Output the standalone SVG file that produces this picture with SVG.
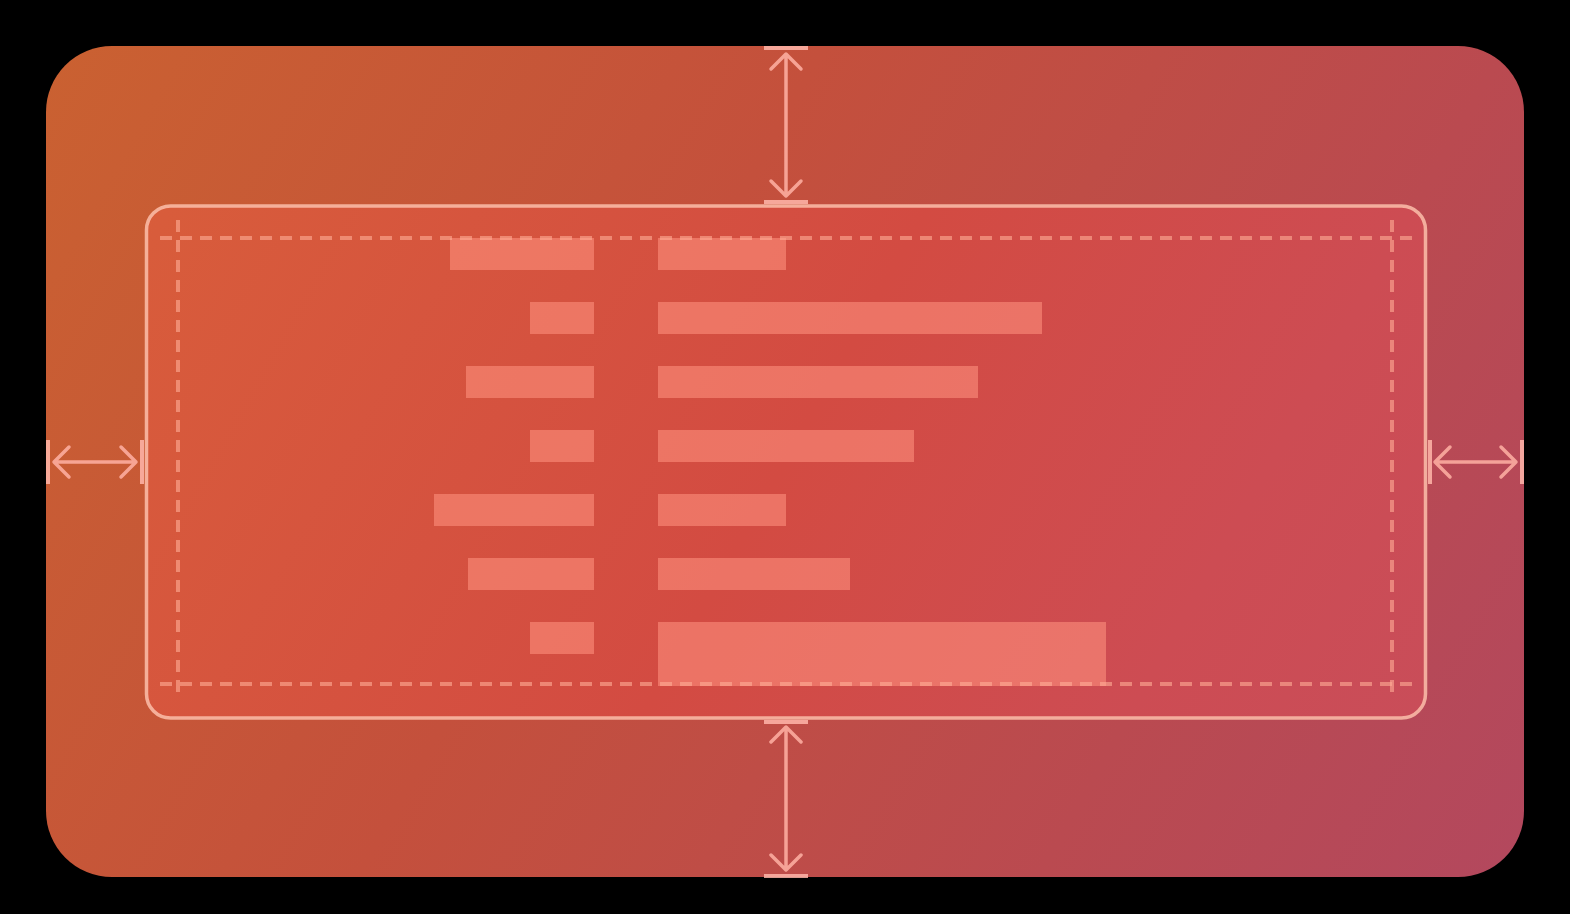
<svg xmlns="http://www.w3.org/2000/svg" width="1570" height="914" viewBox="0 0 1570 914">
  <defs>
    <linearGradient id="frameFill" gradientUnits="userSpaceOnUse" x1="46" y1="46" x2="1524" y2="877">
      <stop offset="0" stop-color="#ca6131"/>
      <stop offset="0.4" stop-color="#c4503c"/>
      <stop offset="0.75" stop-color="#ba4a50"/>
      <stop offset="1" stop-color="#b3485e"/>
    </linearGradient>
    <linearGradient id="panelFill" gradientUnits="userSpaceOnUse" x1="46" y1="46" x2="1524" y2="877">
      <stop offset="0" stop-color="#dc6436"/>
      <stop offset="0.11" stop-color="#d85c3b"/>
      <stop offset="0.5" stop-color="#d34b42"/>
      <stop offset="0.75" stop-color="#cd4c53"/>
      <stop offset="0.9" stop-color="#c94d59"/>
      <stop offset="1" stop-color="#c54c5e"/>
    </linearGradient>
    <style>
      .bar { fill: rgb(255,146,127); fill-opacity: 0.575; }
      .guide { fill: none; stroke: rgb(255,174,150); stroke-opacity: 0.6; stroke-width: 4; stroke-dasharray: 12 8; }
      .panel-edge { fill: url(#panelFill); stroke: rgb(252,190,170); stroke-opacity: 0.85; stroke-width: 3.5; }
      .arrow { fill: none; stroke: rgb(255,178,165); stroke-opacity: 0.85; stroke-width: 3.5; stroke-linecap: round; stroke-linejoin: round; }
      .cap { fill: rgb(255,182,170); fill-opacity: 0.85; }
    </style>
  </defs>

  <rect width="1570" height="914" fill="#000"/>

  <!-- outer frame -->
  <g id="frame">
    <rect x="46" y="46" width="1478" height="831" rx="66" ry="66" fill="url(#frameFill)"/>
  </g>

  <!-- content panel -->
  <g id="panel">
    <rect class="panel-edge" x="146.5" y="206" width="1279" height="512" rx="24" ry="24"/>
  </g>

  <!-- bars, left column right-aligned to 594, right column starting at 658 -->
  <g id="bars">
    <g id="row1"><rect class="bar" x="450" y="238" width="144" height="32"/><rect class="bar" x="658" y="238" width="128" height="32"/></g>
    <g id="row2"><rect class="bar" x="530" y="302" width="64" height="32"/><rect class="bar" x="658" y="302" width="384" height="32"/></g>
    <g id="row3"><rect class="bar" x="466" y="366" width="128" height="32"/><rect class="bar" x="658" y="366" width="320" height="32"/></g>
    <g id="row4"><rect class="bar" x="530" y="430" width="64" height="32"/><rect class="bar" x="658" y="430" width="256" height="32"/></g>
    <g id="row5"><rect class="bar" x="434" y="494" width="160" height="32"/><rect class="bar" x="658" y="494" width="128" height="32"/></g>
    <g id="row6"><rect class="bar" x="468" y="558" width="126" height="32"/><rect class="bar" x="658" y="558" width="192" height="32"/></g>
    <g id="row7"><rect class="bar" x="530" y="622" width="64" height="32"/><rect class="bar" x="658" y="622" width="448" height="64"/></g>
  </g>

  <!-- dashed safe-area guides -->
  <g id="guides">
    <line class="guide" x1="160" y1="238" x2="1412" y2="238"/>
    <line class="guide" x1="160" y1="684" x2="1412" y2="684"/>
    <line class="guide" x1="178" y1="220" x2="178" y2="692"/>
    <line class="guide" x1="1392" y1="220" x2="1392" y2="692"/>
  </g>

  <!-- margin dimension arrows -->
  <g id="connectors">
    <g id="margin-top">
      <rect class="cap" x="764" y="46" width="44" height="4"/>
      <rect class="cap" x="764" y="200" width="44" height="4"/>
      <path class="arrow" d="M786 54 V196 M771 69 L786 54 L801 69 M771 181 L786 196 L801 181"/>
    </g>
    <g id="margin-bottom">
      <rect class="cap" x="764" y="720" width="44" height="4"/>
      <rect class="cap" x="764" y="874" width="44" height="4"/>
      <path class="arrow" d="M786 727 V870 M771 742 L786 727 L801 742 M771 855 L786 870 L801 855"/>
    </g>
    <g id="margin-left">
      <rect class="cap" x="46" y="440" width="4" height="44"/>
      <rect class="cap" x="140" y="440" width="4" height="44"/>
      <path class="arrow" d="M54 462 H136 M69 447 L54 462 L69 477 M121 447 L136 462 L121 477"/>
    </g>
    <g id="margin-right">
      <rect class="cap" x="1428" y="440" width="4" height="44"/>
      <rect class="cap" x="1520" y="440" width="4" height="44"/>
      <path class="arrow" d="M1435 462 H1516 M1450 447 L1435 462 L1450 477 M1501 447 L1516 462 L1501 477"/>
    </g>
  </g>
</svg>
